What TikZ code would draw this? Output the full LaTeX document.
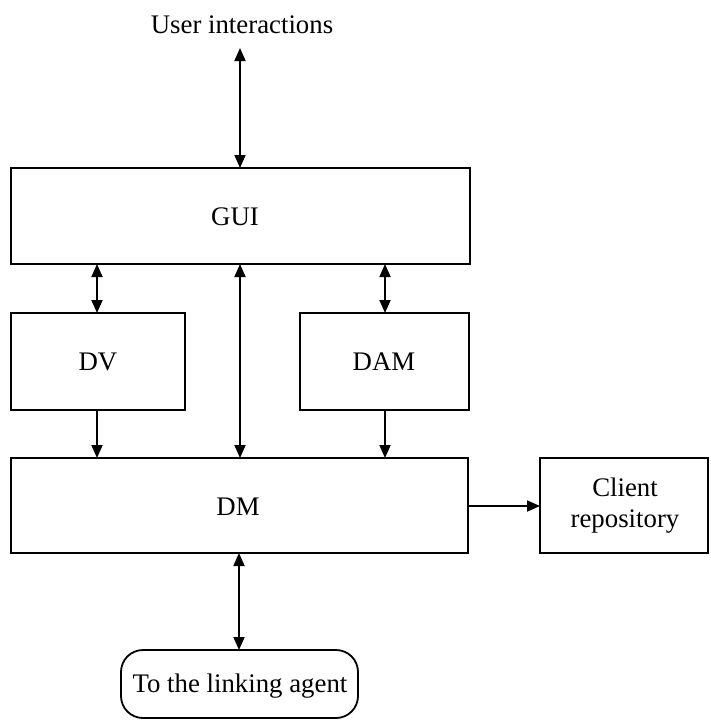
\documentclass[tikz,border=0pt]{standalone}
\usepackage{fontspec}
\setmainfont{Liberation Serif}
\usetikzlibrary{arrows.meta}
\begin{document}
\begin{tikzpicture}[x=1pt,y=-1pt,
  box/.style={draw,line width=1.8pt},
  lbl/.style={font=\fontsize{26.8}{31}\selectfont,align=center},
  link/.style={line width=1.8pt,-{Triangle[length=13pt,width=11pt]}},
  both/.style={line width=1.8pt,{Triangle[length=13pt,width=11pt]}-{Triangle[length=13pt,width=11pt]}}]
\useasboundingbox (0,0) rectangle (710,720);
% boxes
\draw[box] (11,168) rectangle (470,264);
\draw[box] (11,313) rectangle (185,410);
\draw[box] (300,313) rectangle (469,410);
\draw[box] (11,458) rectangle (468,553);
\draw[box] (540,458) rectangle (708,553);
\draw[box,rounded corners=22pt] (121,650) rectangle (358,718);
% labels
\node[lbl] (user) at (242,25) {User interactions};
\node[lbl] (gui) at (235,217) {GUI};
\node[lbl] (dv) at (98,362) {DV};
\node[lbl] (dam) at (384,362) {DAM};
\node[lbl] (dm) at (238,507) {DM};
\node[lbl] (repo) at (625,506) {Client\\repository};
\node[lbl] (agent) at (240,686) {To the linking agent};
% anchor points on the box edges
\coordinate (uTop) at (240,48);
\coordinate (guiTop) at (240,168);
\coordinate (guiB1) at (97,264);
\coordinate (guiB2) at (240,264);
\coordinate (guiB3) at (385,264);
\coordinate (dvT) at (97,313);
\coordinate (damT) at (385,313);
\coordinate (dvB) at (97,410);
\coordinate (damB) at (385,410);
\coordinate (dmT1) at (97,458);
\coordinate (dmT2) at (240,458);
\coordinate (dmT3) at (385,458);
\coordinate (dmR) at (468,506);
\coordinate (repoL) at (540,506);
\coordinate (dmB) at (239,553);
\coordinate (agT) at (239,650);
% connectors
\draw[both] (uTop) -- (guiTop);
\draw[both] (guiB1) -- (dvT);
\draw[both] (guiB3) -- (damT);
\draw[both] (guiB2) -- (dmT2);
\draw[link] (dvB) -- (dmT1);
\draw[link] (damB) -- (dmT3);
\draw[link] (dmR) -- (repoL);
\draw[both] (dmB) -- (agT);
\end{tikzpicture}
\end{document}
